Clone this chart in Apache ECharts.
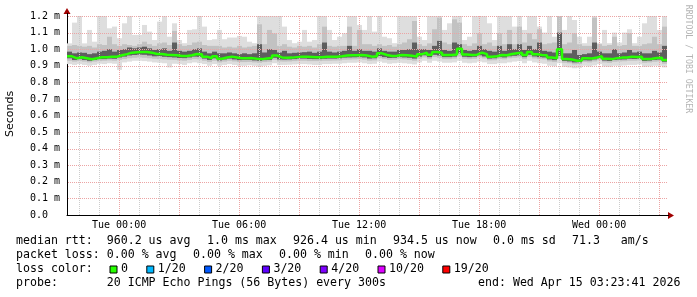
<!DOCTYPE html>
<html><head><meta charset="utf-8">
<script src="https://cdn.jsdelivr.net/npm/echarts@6/dist/echarts.min.js"></script>
<style>html,body{margin:0;padding:0;background:#fff}#c{width:697px;height:297px}</style>
</head><body><div id="c"></div>
<script>
// time axis: hours relative to Tue 00:00; 120 samples of 15 min, Mon 21:23:41 -> Wed 03:23:41
const START = -2.6053;
const STEP = 0.25;
const END = 27.3947;
const xTickHours = [0, 6, 12, 18, 24];
const xTickLabels = ['Tue 00:00', 'Tue 06:00', 'Tue 12:00', 'Tue 18:00', 'Wed 00:00'];
const majorGridHours = [0, 3, 6, 9, 12, 15, 18, 21, 24, 27];
const minorGridHours = [-2, -1, 1, 2, 4, 5, 7, 8, 10, 11, 13, 14, 16, 17, 19, 20, 22, 23, 25, 26];
const yTicks = [0.1, 0.2, 0.3, 0.4, 0.5, 0.6, 0.7, 0.8, 0.9, 1.0, 1.1, 1.2];

// median rtt (ms)
const medianRtt = [
 .957,.945,.951,.945,.939,.945,.951,.951,.955,.955,
 .963,.970,.979,.981,.983,.983,.979,.971,.971,.967,
 .965,.963,.959,.959,.963,.971,.969,.955,.945,.958,
 .942,.950,.955,.950,.945,.945,.946,.942,.940,.944,
 .946,.962,.950,.948,.949,.952,.955,.955,.953,.951,
 .951,.954,.955,.955,.957,.962,.963,.964,.965,.962,
 .955,.957,.975,.965,.959,.960,.965,.963,.960,.955,
 .970,.979,.966,.983,.978,.965,.965,.968,1.003,.968,
 .965,.967,.979,.970,.955,.957,.965,.963,.971,.975,
 .979,.965,.983,.970,.965,.963,.950,.945,1.000,.940,
 .938,.930,.931,.945,.944,.950,.958,.942,.940,.946,
 .949,.950,.955,.953,.955,.940,.942,.947,.949,.935
];
// smoke: ping distribution per step (ms)
const smokeMax = [
 1.035,1.16,1.2,1.035,1.116,1.045,1.2,1.2,1.126,1.136,
 1.066,1.156,1.2,1.086,1.086,1.146,1.106,1.055,1.166,1.2,
 1.075,1.156,1.055,1.036,1.116,1.12,1.2,1.136,1.055,1.06,
 1.116,1.06,1.07,1.07,1.08,1.075,1.045,1.036,1.2,1.2,
 1.2,1.2,1.2,1.136,1.055,1.036,1.045,1.116,1.045,1.055,
 1.2,1.2,1.116,1.055,1.075,1.096,1.2,1.2,1.146,1.116,
 1.2,1.106,1.2,1.075,1.066,1.036,1.2,1.2,1.2,1.2,
 1.075,1.055,1.2,1.2,1.2,1.116,1.156,1.2,1.2,1.055,
 1.075,1.2,1.2,1.2,1.156,1.055,1.2,1.2,1.2,1.136,
 1.2,1.116,1.2,1.2,1.136,1.1,1.2,1.075,1.2,1.116,
 1.2,1.176,1.075,1.036,1.075,1.2,1.036,1.116,1.036,1.1,
 1.04,1.1,1.12,1.036,1.075,1.156,1.2,1.2,1.116,1.2
];
const smokeP90 = [
 1.02,1.025,1.02,1.015,1.02,1.01,1.03,1.025,1.075,1.03,
 1.02,1.03,1.025,1.02,1.03,1.045,1.03,1.02,1.035,1.04,
 1.025,1.11,1.03,1.02,1.025,1.04,1.045,1.025,1.02,1.02,
 1.02,1.01,1.015,1.01,1.02,1.01,1.015,1.02,1.15,1.03,
 1.116,1.095,1.02,1.03,1.015,1.01,1.02,1.015,1.02,1.01,
 1.03,1.136,1.02,1.015,1.02,1.02,1.136,1.02,1.116,1.03,
 1.03,1.02,1.03,1.02,1.025,1.015,1.03,1.04,1.06,1.17,
 1.03,1.02,1.035,1.12,1.19,1.04,1.03,1.18,1.16,1.03,
 1.02,1.035,1.096,1.03,1.04,1.02,1.096,1.03,1.116,1.03,
 1.136,1.04,1.096,1.06,1.12,1.03,1.035,1.04,1.2,1.03,
 1.04,1.096,1.03,1.02,1.02,1.19,1.03,1.02,1.025,1.075,
 1.02,1.025,1.096,1.02,1.02,1.03,1.035,1.075,1.03,1.136
];
const smokeP75 = [
 .985,.975,.980,.978,.970,.975,.985,.990,1.0,.985,
 .995,1.0,1.01,1.005,1.01,1.015,1.005,.995,1.0,1.005,
 .99,1.04,.99,.985,.99,1.0,1.005,.985,.975,.985,
 .975,.975,.98,.975,.97,.975,.97,.975,1.03,.98,
 1.0,.995,.98,.99,.975,.978,.98,.982,.985,.978,
 .985,1.04,.985,.98,.985,.99,1.02,.99,1.0,.99,
 .99,.985,1.005,.99,.985,.985,.995,.995,1.0,1.04,
 1.0,1.0,.995,1.02,1.05,.995,.99,1.04,1.03,.995,
 .99,.995,1.02,1.0,.99,.985,1.02,.99,1.03,1.0,
 1.03,.995,1.02,1.0,1.04,.99,.985,.98,1.1,.975,
 .975,.995,.965,.97,.975,1.04,.985,.975,.975,1.0,
 .975,.98,.995,.98,.985,.975,.975,.99,.98,1.02
];
const smokeP25 = [
 .945,.935,.94,.935,.93,.935,.94,.94,.943,.942,
 .95,.955,.962,.965,.967,.966,.962,.957,.958,.954,
 .952,.95,.947,.946,.95,.955,.954,.943,.935,.945,
 .932,.938,.943,.938,.934,.935,.935,.932,.93,.934,
 .935,.948,.938,.937,.938,.94,.943,.943,.941,.94,
 .94,.942,.943,.943,.945,.949,.95,.951,.952,.95,
 .943,.945,.958,.952,.947,.948,.952,.95,.948,.943,
 .955,.963,.952,.966,.962,.952,.952,.955,.975,.954,
 .952,.954,.963,.956,.943,.945,.952,.95,.957,.96,
 .963,.952,.966,.956,.952,.95,.938,.934,.96,.929,
 .926,.92,.921,.933,.932,.938,.945,.931,.929,.935,
 .937,.938,.942,.941,.943,.929,.931,.935,.937,.924
];
const smokeP10 = [
 .93,.925,.928,.925,.92,.925,.928,.93,.932,.93,
 .935,.94,.945,.948,.95,.948,.945,.942,.94,.938,
 .936,.935,.932,.93,.935,.94,.938,.93,.922,.93,
 .92,.925,.93,.926,.922,.922,.923,.92,.918,.922,
 .924,.935,.926,.925,.926,.928,.93,.93,.928,.928,
 .928,.93,.93,.931,.932,.936,.937,.938,.94,.937,
 .93,.932,.945,.94,.935,.936,.94,.938,.935,.93,
 .942,.95,.94,.952,.948,.94,.94,.943,.955,.942,
 .94,.942,.95,.944,.932,.933,.94,.938,.945,.948,
 .95,.94,.952,.944,.94,.938,.926,.922,.94,.918,
 .915,.908,.91,.922,.92,.926,.933,.92,.918,.924,
 .926,.927,.93,.93,.932,.918,.92,.924,.926,.912
];
const smokeMin = [
 .91,.905,.91,.905,.9,.905,.912,.91,.915,.912,
 .875,.92,.925,.93,.93,.928,.925,.92,.918,.915,
 .89,.912,.91,.905,.915,.92,.915,.91,.9,.91,
 .9,.905,.91,.905,.9,.9,.903,.9,.895,.9,
 .903,.915,.905,.905,.906,.908,.91,.91,.908,.905,
 .905,.91,.91,.912,.912,.915,.918,.918,.92,.915,
 .91,.912,.925,.918,.912,.915,.918,.915,.912,.908,
 .92,.93,.918,.93,.925,.918,.918,.92,.93,.918,
 .915,.918,.925,.92,.91,.91,.915,.915,.92,.925,
 .928,.915,.93,.92,.915,.912,.9,.897,.915,.893,
 .89,.885,.888,.9,.895,.902,.91,.895,.893,.9,
 .9,.902,.905,.905,.908,.893,.895,.9,.9,.89
];

const legendRow1 = [['median rtt:  960.2 us avg', 16], ['1.0 ms max', 207], ['926.4 us min', 293], ['934.5 us now', 393], ['0.0 ms sd', 493], ['71.3   am/s', 572]];
const legendRow2 = [['packet loss: 0.00 % avg', 16], ['0.00 % max', 193], ['0.00 % min', 279], ['0.00 % now', 365]];
const lossLabels = ['0', '1/20', '2/20', '3/20', '4/20', '10/20', '19/20'];
const lossColors = ['#26ff00', '#00b8ff', '#0059ff', '#5e00ff', '#7e00ff', '#dd00ff', '#ff0000'];

const MONO = '"DejaVu Sans Mono", monospace';
const chart = echarts.init(document.getElementById('c'), null, {renderer: 'canvas'});

function smokeLayer(lo, hi, color, z) {
  return {
    type: 'custom', silent: true, animation: false, clip: true, z: z,
    data: lo.map((v, i) => [START + i * STEP, v, hi[i]]),
    encode: {x: 0, y: [1, 2]},
    renderItem: function (params, api) {
      const t = api.value(0);
      const p1 = api.coord([t, api.value(2)]);
      const p2 = api.coord([t + STEP, api.value(1)]);
      return {type: 'rect', shape: {x: p1[0], y: p1[1], width: p2[0] - p1[0], height: p2[1] - p1[1]}, style: {fill: color}};
    }
  };
}

// dotted grid lines (1px dots every 2px), positioned through the axes' scales
function gridSeries(items, color, z) {
  return {
    type: 'custom', silent: true, animation: false, clip: false, z: z,
    data: items.map(it => [it[1]]),
    encode: {x: 0},
    renderItem: function (params, api) {
      const isX = items[params.dataIndex][0] === 'x';
      const v = items[params.dataIndex][1];
      const children = [];
      if (isX) {
        const a = api.coord([v, 0]);
        const b = api.coord([v, 1.2]);
        const x = Math.round(a[0]);
        for (let y = Math.round(b[1]); y < a[1] - 0.5; y += 2) {
          children.push({type: 'rect', shape: {x: x, y: y, width: 1, height: 1}, style: {fill: color}});
        }
      } else {
        const a = api.coord([START, v]);
        const b = api.coord([END, v]);
        const y = Math.round(a[1]);
        for (let x = Math.round(a[0]) + 1; x < b[0]; x += 2) {
          children.push({type: 'rect', shape: {x: x, y: y, width: 1, height: 1}, style: {fill: color}});
        }
      }
      return {type: 'group', children: children};
    }
  };
}

const graphics = [];
function txt(text, x, y, font, fill, extra) {
  const el = {type: 'text', x: x, y: y, silent: true,
    style: Object.assign({text: text, font: font, fill: fill || '#000', textAlign: 'left', textVerticalAlign: 'middle', align: 'left', verticalAlign: 'middle'}, (extra && extra.style) || {})};
  if (extra && extra.rotation !== undefined) el.rotation = extra.rotation;
  graphics.push(el);
}
const LF = '11.6px ' + MONO;
legendRow1.forEach(p => txt(p[0], p[1], 241, LF));
legendRow2.forEach(p => txt(p[0], p[1], 255, LF));
txt('loss color:', 16, 269, LF);
let bx = 109.5;
lossLabels.forEach((lab, k) => {
  graphics.push({type: 'rect', silent: true, shape: {x: bx + 0.5, y: 266, width: 7, height: 7}, style: {fill: lossColors[k], stroke: '#000', lineWidth: 1}});
  txt(lab, bx + 11.5, 269, LF);
  bx += 29.8 + 7 * lab.length;
});
txt('probe:       20 ICMP Echo Pings (56 Bytes) every 300s', 16, 283, LF);
txt('end: Wed Apr 15 03:23:41 2026', 478, 283, LF);
txt('Seconds', 10.5, 114, '11px "DejaVu Sans", sans-serif', '#000', {rotation: Math.PI / 2, style: {textAlign: 'center', align: 'center'}});
txt('RRDTOOL / TOBI OETIKER', 688, 59, '8.2px ' + MONO, '#b4b4b4', {rotation: -Math.PI / 2, style: {textAlign: 'center', align: 'center'}});
// axis arrows
graphics.push({type: 'polygon', silent: true, shape: {points: [[67, 8], [63.5, 14], [70.5, 14]]}, style: {fill: '#a00000'}});
graphics.push({type: 'polygon', silent: true, shape: {points: [[674, 215.5], [668, 212], [668, 219]]}, style: {fill: '#a00000'}});
graphics.push({type: 'rect', silent: true, shape: {x: 67, y: 13, width: 1, height: 3}, style: {fill: '#000'}});
graphics.push({type: 'rect', silent: true, shape: {x: 667, y: 215, width: 2, height: 1}, style: {fill: '#000'}});

const redGrid = yTicks.map(v => ['y', v]).concat(majorGridHours.map(h => ['x', h]));
const grayGrid = minorGridHours.map(h => ['x', h]);

const medianData = medianRtt.map((v, i) => [START + i * STEP, v]);
medianData.push([END, medianRtt[medianRtt.length - 1]]);

chart.setOption({
  animation: false,
  backgroundColor: '#ffffff',
  grid: {left: 67, right: 30, top: 16, bottom: 82, containLabel: false},
  xAxis: {
    type: 'value', min: START, max: END,
    axisLine: {show: true, onZero: false, lineStyle: {color: '#000', width: 1}},
    axisTick: {show: false},
    splitLine: {show: false},
    axisLabel: {
      customValues: xTickHours,
      formatter: v => { const k = xTickHours.indexOf(Math.round(v)); return k >= 0 ? xTickLabels[k] : ''; },
      fontFamily: 'DejaVu Sans Mono', fontSize: 10, color: '#000', margin: 5
    }
  },
  yAxis: {
    type: 'value', min: 0, max: 1.2, interval: 0.1,
    axisLine: {show: true, onZero: false, lineStyle: {color: '#000', width: 1}},
    axisTick: {show: false},
    splitLine: {show: false},
    axisLabel: {
      formatter: v => (Math.abs(v) < 1e-9 ? '0.0  ' : v.toFixed(1) + ' m'),
      fontFamily: 'DejaVu Sans Mono', fontSize: 10, color: '#000', margin: 7
    }
  },
  graphic: graphics,
  series: [
    smokeLayer(smokeMin, smokeMax, '#dedede', 1),
    smokeLayer(smokeP10, smokeP90, '#c2c2c2', 2),
    smokeLayer(smokeP25, smokeP75, '#5e5e5e', 3),
    gridSeries(grayGrid, '#cccccc', 4),
    gridSeries(redGrid, '#eca4a4', 5),
    {
      type: 'line', step: 'end', data: medianData, symbol: 'none', z: 10, silent: true,
      lineStyle: {color: '#26ff00', width: 2.5}
    }
  ]
});
</script></body></html>
